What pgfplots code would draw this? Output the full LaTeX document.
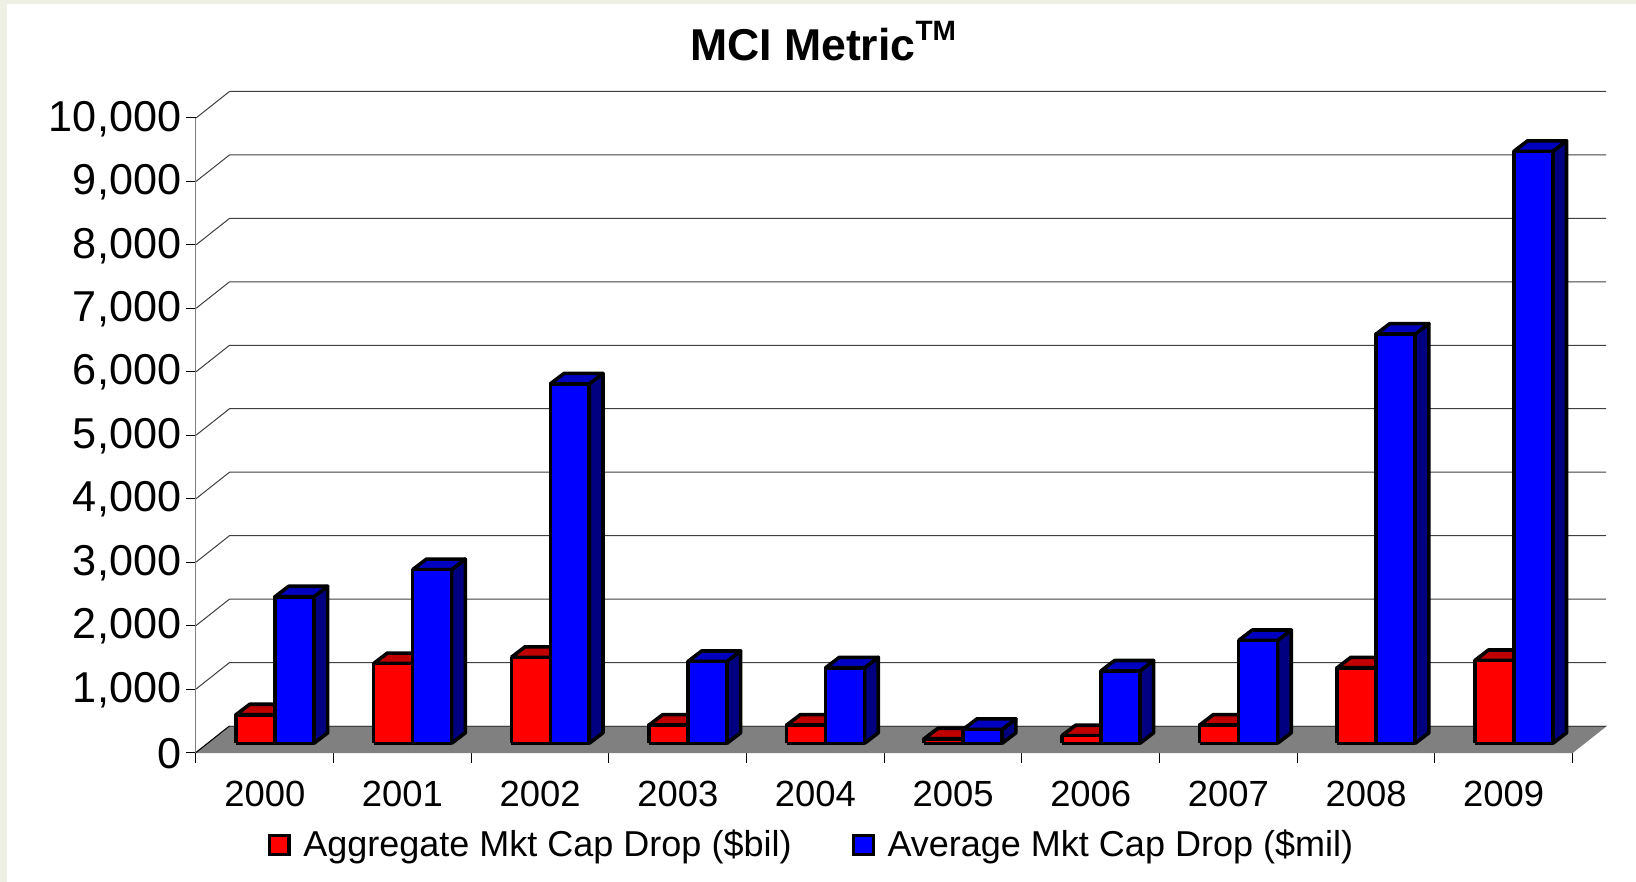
\documentclass[border=0pt]{standalone}
\usepackage{fontspec}
\setmainfont{Liberation Sans}
\usepackage{pgfplots}
\usepackage{pgfplotstable}
\pgfplotsset{compat=1.18}
\definecolor{pagebg}{HTML}{EEF0E3}
\definecolor{floorc}{HTML}{808080}
\definecolor{gridc}{HTML}{404040}
\definecolor{redtop}{HTML}{C00000}
\definecolor{bluetop}{HTML}{0000C0}
\definecolor{blueside}{HTML}{000080}
\pgfplotstableread{
year aggregate average
2000 450 2310
2001 1257 2737
2002 1355 5664
2003 286 1290
2004 286 1190
2005 72 220
2006 120 1140
2007 286 1620
2008 1190 6450
2009 1306 9330
}\mcitable
\newcommand{\drawbar}[6]{% x0, x1, value, front, top, side
  \pgfmathsetmacro{\xa}{#1}\pgfmathsetmacro{\xb}{#2}
  \pgfmathsetmacro{\xc}{\xa+0.0995}\pgfmathsetmacro{\xd}{\xb+0.0995}
  \pgfmathsetmacro{\yb}{145}\pgfmathsetmacro{\yc}{145+165}
  \pgfmathsetmacro{\yt}{145+#3}\pgfmathsetmacro{\yu}{\yt+165}
  \addplot[forget plot,draw=black,line width=1.8pt,line join=round,fill=#6] coordinates {(\xb,\yb) (\xd,\yc) (\xd,\yu) (\xb,\yt) (\xb,\yb)};
  \addplot[forget plot,draw=black,line width=1.8pt,line join=round,fill=#5] coordinates {(\xa,\yt) (\xb,\yt) (\xd,\yu) (\xc,\yu) (\xa,\yt)};
  \addplot[forget plot,draw=black,line width=1.8pt,line join=round,fill=#4] coordinates {(\xa,\yb) (\xb,\yb) (\xb,\yt) (\xa,\yt) (\xa,\yb)};
}
\begin{document}
\begin{tikzpicture}
\fill[pagebg] (-98pt,-64.75pt) rectangle (720pt,376.25pt);
\fill[white] (-94.5pt,-64.75pt) rectangle (720pt,374.25pt);
\begin{axis}[
  scale only axis, width=688.25pt, height=317.25pt,
  xmin=0, xmax=10, ymin=0, ymax=10000, clip=false,
  axis x line*=bottom, axis y line*=left,
  axis line style={-, color=floorc, line width=0.5pt},
  no markers,
  xtick={0.5,1.5,...,9.5},
  xticklabels={2000,2001,2002,2003,2004,2005,2006,2007,2008,2009},
  minor xtick={0,1,...,10},
  ytick={0,1000,...,10000},
  major x tick style={draw=none},
  minor x tick style={black, line width=0.5pt},
  y tick style={black, line width=0.5pt},
  tick align=outside,
  minor tick length=5.25pt, major tick length=5.25pt,
  scaled y ticks=false,
  /pgf/number format/assume math mode=true,
  /pgf/number format/1000 sep={,},
  y tick label style={font=\fontsize{21.6}{25}\selectfont, inner sep=0pt, xshift=-2pt, yshift=-0.4pt},
  x tick label style={font=\fontsize{18.2}{21}\selectfont, inner sep=0pt, yshift=-8.8pt},
  title={MCI Metric\raisebox{10pt}{\fontsize{14}{14}\selectfont TM}},
  title style={at={(axis description cs:0.4555,1.1025)}, anchor=center, inner sep=0pt,
               font=\fontsize{22.3}{26}\bfseries\selectfont},
  legend columns=2,
  legend cell align=left,
  legend style={at={(axis description cs:0.052,-0.1460)}, anchor=west, draw=none, fill=none,
    inner sep=0pt, font=\fontsize{18}{21}\selectfont,
    /tikz/every even column/.append style={column sep=28.3pt}},
  legend image code/.code={\draw[#1,draw=black,line width=1.6pt] (0pt,-4.85pt) rectangle (9.7pt,4.85pt); \path (14.7pt,0pt);},
]
\addlegendimage{fill=red}
\addlegendimage{fill=blue}
% back wall grid lines
\pgfplotsforeachungrouped \v in {1000,2000,...,10000}{
  \pgfmathsetmacro{\vb}{\v+417.6}
  \addplot[forget plot,gridc,line width=0.5pt] coordinates {(0,\v) (0.2434,\vb) (10.2434,\vb)};
}
% floor
\addplot[forget plot,draw=floorc,fill=floorc,line width=0.5pt] coordinates {(0,0) (10,0) (10.2434,417.6) (0.2434,417.6) (0,0)};
\addplot[forget plot,gridc,line width=0.5pt] coordinates {(0.2434,417.6) (10.2434,417.6)};
\addplot[forget plot,black,line width=0.5pt] coordinates {(0,0) (0.2434,417.6)};
% bars
\pgfplotsforeachungrouped \i in {0,1,...,9}{
  \pgfplotstablegetelem{\i}{aggregate}\of\mcitable \let\vala\pgfplotsretval
  \pgfplotstablegetelem{\i}{average}\of\mcitable \let\valb\pgfplotsretval
  \drawbar{\i+0.2906}{\i+0.574}{\vala}{red}{redtop}{redtop}
  \drawbar{\i+0.574}{\i+0.857}{\valb}{blue}{bluetop}{blueside}
}
\legend{Aggregate Mkt Cap Drop (\$bil),Average Mkt Cap Drop (\$mil)}
\end{axis}
\end{tikzpicture}
\end{document}
